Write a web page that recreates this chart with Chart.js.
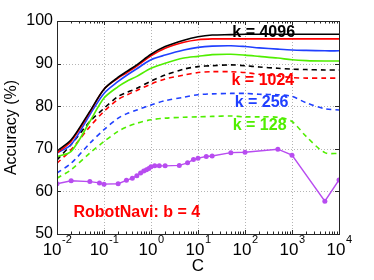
<!DOCTYPE html>
<html lang="en">
  <head>
    <meta charset="UTF-8" />
    <title>RobotNavi accuracy vs C</title>
    <style>
      body {
        margin: 0;
        background: #fff;
      }
      #wrap {
        width: 374px;
        height: 280px;
      }
    </style>
  </head>
  <body>
    <div id="wrap"><canvas id="myChart" width="374" height="280"></canvas></div>
    <script src="https://cdn.jsdelivr.net/npm/chart.js"></script>
    <script>
      // C values shared by the eight k curves
      const cGrid = [0.01, 0.02, 0.05, 0.1, 0.2, 0.3, 0.5, 1, 2, 5, 10, 20, 50, 100, 200, 500, 1000, 2000, 5000, 10000];

      const k4096Solid = [69.5, 72.1, 78.8, 84.0, 86.8, 88.1, 89.7, 92.2, 94.0, 95.5, 96.3, 96.7, 96.8, 96.9, 96.9, 96.9, 96.9, 96.9, 96.9, 96.9];
      const k1024Solid = [69.0, 71.8, 78.6, 84.0, 86.6, 87.8, 89.4, 91.8, 93.6, 95.0, 95.6, 95.8, 95.8, 95.8, 95.8, 95.8, 95.8, 95.8, 95.8, 95.8];
      const k256Solid = [69.0, 71.0, 78.0, 83.0, 85.8, 87.2, 88.8, 90.9, 92.0, 93.2, 93.8, 94.1, 94.2, 94.0, 93.7, 93.4, 93.2, 93.1, 93.0, 93.0];
      const k128Solid = [68.2, 69.4, 76.4, 81.9, 84.6, 85.8, 87.0, 88.9, 90.1, 91.3, 91.7, 92.1, 92.2, 92.0, 91.7, 91.3, 90.9, 90.7, 90.6, 90.6];
      const k4096Dash = [67.4, 71.0, 76.4, 79.5, 82.3, 83.2, 84.2, 85.9, 87.3, 88.7, 89.3, 89.5, 89.7, 89.5, 89.2, 88.9, 88.7, 88.6, 88.5, 88.5];
      const k1024Dash = [66.6, 69.8, 75.2, 78.8, 81.6, 82.6, 83.7, 85.2, 86.4, 87.3, 87.9, 88.1, 88.1, 87.9, 87.5, 87.1, 86.7, 86.6, 86.6, 86.6];
      const k256Dash = [64.3, 66.6, 71.3, 74.5, 77.2, 78.2, 79.1, 80.3, 81.3, 82.1, 82.7, 82.9, 83.0, 83.0, 82.8, 82.7, 82.3, 80.8, 79.4, 79.1];
      const k128Dash = [63.1, 65.1, 69.0, 71.7, 74.1, 75.1, 76.0, 76.8, 77.2, 77.4, 77.5, 77.6, 77.7, 77.5, 77.5, 77.4, 76.4, 72.9, 69.1, 68.9];

      // b = 4 curve with markers
      const cB4 = [0.01, 0.02, 0.05, 0.08, 0.1, 0.2, 0.3, 0.4, 0.5, 0.6, 0.7, 0.8, 0.9, 1, 1.2, 1.5, 2, 4, 6, 8, 10, 15, 20, 50, 100, 500, 1000, 5000, 10000];
      const accB4 = [61.8, 62.5, 62.3, 62.0, 61.7, 61.8, 62.6, 63.1, 63.7, 64.3, 64.8, 65.1, 65.4, 65.8, 66.0, 66.0, 66.0, 66.1, 66.7, 67.5, 67.8, 68.2, 68.3, 69.1, 69.2, 69.9, 68.5, 57.7, 62.7];

      const xTickValues = [0.01, 0.1, 1, 10, 100, 1000, 10000];
      const xTickExponents = ["-2", "-1", "0", "1", "2", "3", "4"];
      const yTickValues = [50, 60, 70, 80, 90, 100];

      const BLACK = "#000000";
      const RED = "#ff0000";
      const BLUE = "#2040ff";
      const GREEN = "#50ee00";
      const PURPLE = "#b84cf0";
      const FONT = "'Liberation Sans', Arial, sans-serif";

      const pairs = (xs, ys) => xs.map((x, i) => ({ x: x, y: ys[i] }));

      function line(data, color, dashed) {
        return {
          data: pairs(cGrid, data),
          borderColor: color,
          backgroundColor: color,
          borderWidth: 1.6,
          borderDash: dashed ? [5, 4] : [],
          pointRadius: 0,
          tension: 0.3,
          fill: false,
        };
      }

      // annotations: text, colour, anchor in data space
      const notes = [
        { text: "k = 4096", color: BLACK, x: 250, y: 97.2 },
        { text: "k = 1024", color: RED, x: 240, y: 86.0 },
        { text: "k = 256", color: BLUE, x: 225, y: 80.8 },
        { text: "k = 128", color: GREEN, x: 205, y: 75.4 },
        { text: "RobotNavi: b = 4", color: RED, x: 0.5, y: 55.0 },
      ];

      const decor = {
        id: "decor",
        beforeDatasetsDraw(chart) {
          // dotted grid at major ticks
          const ctx = chart.ctx;
          const a = chart.chartArea;
          const xs = chart.scales.x;
          const ys = chart.scales.y;
          ctx.save();
          ctx.strokeStyle = "#b4b4b4";
          ctx.lineWidth = 1;
          ctx.setLineDash([1, 2]);
          ctx.beginPath();
          xTickValues.forEach((v) => {
            const px = Math.round(xs.getPixelForValue(v)) + 0.5;
            ctx.moveTo(px, a.top);
            ctx.lineTo(px, a.bottom);
          });
          yTickValues.forEach((v) => {
            const py = Math.round(ys.getPixelForValue(v)) + 0.5;
            ctx.moveTo(a.left, py);
            ctx.lineTo(a.right, py);
          });
          ctx.stroke();
          ctx.restore();
        },
        afterDraw(chart) {
          const ctx = chart.ctx;
          const a = chart.chartArea;
          const xs = chart.scales.x;
          const ys = chart.scales.y;
          ctx.save();

          // minor ticks on the log axis, inward, bottom and top
          ctx.strokeStyle = "#262626";
          ctx.lineWidth = 1;
          ctx.beginPath();
          for (let d = -2; d < 4; d++) {
            for (let m = 1; m <= 9; m++) {
              const px = Math.round(xs.getPixelForValue(m * Math.pow(10, d))) + 0.5;
              const len = m === 1 ? 4 : 2.5;
              ctx.moveTo(px, a.bottom);
              ctx.lineTo(px, a.bottom - len);
              ctx.moveTo(px, a.top);
              ctx.lineTo(px, a.top + len);
            }
          }
          yTickValues.forEach((v) => {
            const py = Math.round(ys.getPixelForValue(v)) + 0.5;
            ctx.moveTo(a.left, py);
            ctx.lineTo(a.left + 4, py);
            ctx.moveTo(a.right, py);
            ctx.lineTo(a.right - 4, py);
          });
          ctx.stroke();

          // box
          ctx.strokeRect(Math.round(a.left) + 0.5, Math.round(a.top) + 0.5, Math.round(a.right - a.left), Math.round(a.bottom - a.top));

          // x tick labels 10^n
          ctx.fillStyle = "#000";
          ctx.textBaseline = "alphabetic";
          ctx.textAlign = "left";
          xTickValues.forEach((v, i) => {
            const px = xs.getPixelForValue(v);
            ctx.font = "17px " + FONT;
            const wBase = ctx.measureText("10").width;
            ctx.font = "11px " + FONT;
            const wExp = ctx.measureText(xTickExponents[i]).width;
            const x0 = px - (wBase + wExp) / 2;
            ctx.font = "17px " + FONT;
            ctx.fillText("10", x0, 255);
            ctx.font = "11px " + FONT;
            ctx.fillText(xTickExponents[i], x0 + wBase + 0.5, 243);
          });

          // annotations
          ctx.font = "bold 16px " + FONT;
          ctx.textAlign = "center";
          ctx.textBaseline = "middle";
          notes.forEach((n) => {
            ctx.fillStyle = n.color;
            ctx.fillText(n.text, xs.getPixelForValue(n.x), ys.getPixelForValue(n.y));
          });
          ctx.restore();
        },
      };

      new Chart(document.getElementById("myChart"), {
        type: "line",
        data: {
          datasets: [
            line(k4096Solid, BLACK, false),
            line(k1024Solid, RED, false),
            line(k256Solid, BLUE, false),
            line(k128Solid, GREEN, false),
            line(k4096Dash, BLACK, true),
            line(k1024Dash, RED, true),
            line(k256Dash, BLUE, true),
            line(k128Dash, GREEN, true),
            {
              data: pairs(cB4, accB4),
              borderColor: PURPLE,
              backgroundColor: PURPLE,
              borderWidth: 1.4,
              pointRadius: 2.5,
              pointBorderWidth: 0,
              pointHoverRadius: 2.5,
              tension: 0,
              fill: false,
            },
          ],
        },
        options: {
          responsive: false,
          animation: false,
          devicePixelRatio: 1,
          layout: { padding: { top: 21, right: 35, left: 0, bottom: 0 } },
          plugins: { legend: { display: false }, tooltip: { enabled: false } },
          scales: {
            x: {
              type: "logarithmic",
              min: 0.01,
              max: 10000,
              afterBuildTicks: (s) => {
                s.ticks = xTickValues.map((v) => ({ value: v }));
              },
              afterFit: (s) => {
                s.height = 46;
              },
              ticks: { display: false },
              grid: { display: false },
              border: { display: false },
              title: {
                display: true,
                text: "C",
                color: "#000",
                font: { family: FONT, size: 17 },
                padding: { top: 0, bottom: 3 },
              },
            },
            y: {
              min: 50,
              max: 100,
              afterBuildTicks: (s) => {
                s.ticks = yTickValues.map((v) => ({ value: v }));
              },
              afterFit: (s) => {
                s.width = 57;
              },
              ticks: {
                color: "#000",
                padding: 4,
                font: { family: FONT, size: 16 },
              },
              grid: { display: false, drawTicks: false },
              border: { display: false },
              title: {
                display: true,
                text: "Accuracy (%)",
                color: "#000",
                font: { family: FONT, size: 16 },
                padding: { top: 2, bottom: 0 },
              },
            },
          },
        },
        plugins: [decor],
      });
    </script>
  </body>
</html>
